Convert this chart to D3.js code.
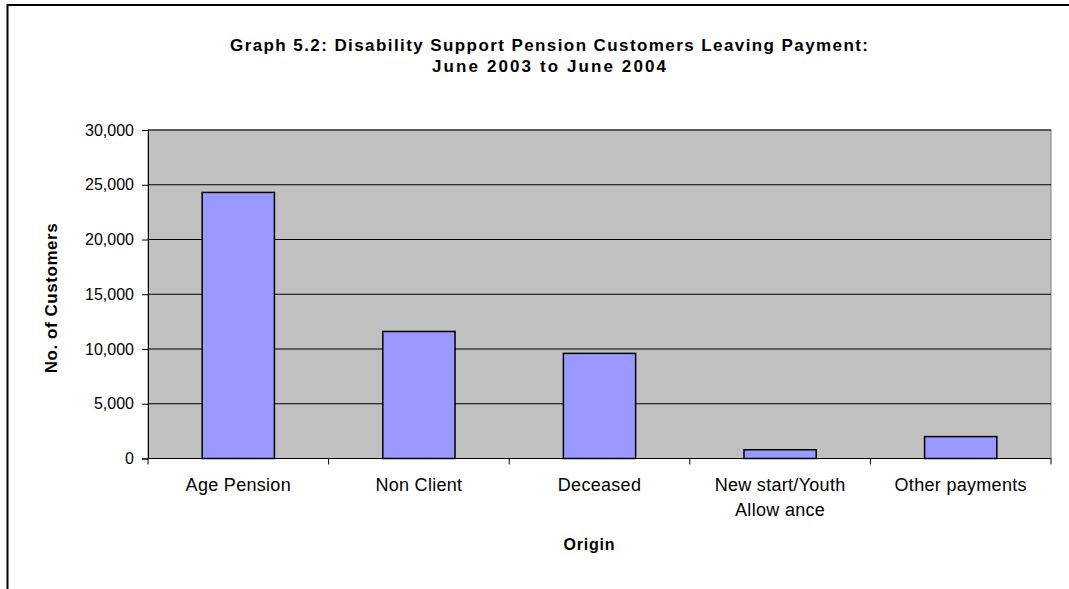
<!DOCTYPE html>
<html><head><meta charset="utf-8">
<script src="https://cdn.jsdelivr.net/npm/d3@7"></script>
<style>body{margin:0;background:#fff;} svg{display:block;font-family:"Liberation Sans",Arial,sans-serif;}</style>
</head><body>
<svg id="c" width="1069" height="589"></svg>
<script>
const categories = ["Age Pension", "Non Client", "Deceased", "New start/Youth Allowance", "Other payments"];
const categoryLines = [["Age Pension"], ["Non Client"], ["Deceased"], ["New start/Youth", "Allow ance"], ["Other payments"]];
const values = [24300, 11600, 9600, 800, 2000];
const yTicks = [0, 5000, 10000, 15000, 20000, 25000, 30000];
const titleLines = ["Graph 5.2: Disability Support Pension Customers Leaving Payment:", "June 2003 to June 2004"];
const yTitle = "No. of Customers";
const xTitle = "Origin";

const svg = d3.select("#c");
const plot = {l: 148, r: 1051, t: 130, b: 458.5};

// outer border
svg.append("rect").attr("x", 7.5).attr("y", 5).attr("width", 1100).attr("height", 700)
  .attr("fill", "#fff").attr("stroke", "#000").attr("stroke-width", 2);

const x = d3.scaleBand().domain(categories).range([plot.l, plot.r]).paddingInner(0.6).paddingOuter(0.3);
const xOuter = d3.scaleBand().domain(categories).range([plot.l, plot.r]);
const y = d3.scaleLinear().domain([0, 30000]).range([plot.b, plot.t]);

// plot background
svg.append("rect").attr("x", plot.l).attr("y", plot.t).attr("width", plot.r - plot.l).attr("height", plot.b - plot.t)
  .attr("fill", "#c0c0c0").attr("stroke", "#808080").attr("stroke-width", 1);

// gridlines
svg.append("g").selectAll("line").data(yTicks.filter(d => d > 0)).join("line")
  .attr("x1", plot.l).attr("x2", plot.r).attr("y1", d => y(d)).attr("y2", d => y(d))
  .attr("stroke", "#000").attr("stroke-width", 1);

// bars
svg.append("g").selectAll("rect").data(values).join("rect")
  .attr("x", (d, i) => x(categories[i]))
  .attr("width", x.bandwidth())
  .attr("y", d => y(d))
  .attr("height", d => y(0) - y(d))
  .attr("fill", "#9999ff").attr("stroke", "#000").attr("stroke-width", 1.5);

// y axis
const yAxis = d3.axisLeft(y).tickValues(yTicks).tickSize(6).tickPadding(8).tickFormat(d3.format(","));
const gy = svg.append("g").attr("transform", `translate(${plot.l},0)`).call(yAxis);
gy.select(".domain").attr("stroke", "#000");
gy.selectAll(".tick line").attr("stroke", "#000");
gy.selectAll("text").attr("font-size", 16).attr("fill", "#000").attr("font-family", "Liberation Sans, Arial, sans-serif");

// x axis
const gx = svg.append("g").attr("transform", `translate(0,${plot.b})`);
gx.append("line").attr("x1", plot.l).attr("x2", plot.r).attr("stroke", "#000");
gx.selectAll("line.t").data(categories.concat(["_end"])).join("line").attr("class", "t")
  .attr("x1", (d, i) => i < categories.length ? xOuter(d) : plot.r)
  .attr("x2", (d, i) => i < categories.length ? xOuter(d) : plot.r)
  .attr("y1", 0).attr("y2", 6).attr("stroke", "#000");
const lab = gx.selectAll("text").data(categoryLines).join("text")
  .attr("x", (d, i) => xOuter(categories[i]) + xOuter.bandwidth() / 2)
  .attr("y", 32).attr("text-anchor", "middle").attr("font-size", 18).attr("letter-spacing", 0.3).attr("fill", "#000");
lab.selectAll("tspan").data(d => d).join("tspan")
  .attr("x", function () { return d3.select(this.parentNode).attr("x"); })
  .attr("dy", (d, i) => i === 0 ? 0 : 25).text(d => d);

// titles
const titleWidths = [638, 234];
svg.append("g").selectAll("text").data(titleLines).join("text")
  .attr("x", 549).attr("y", (d, i) => 51 + i * 21).attr("text-anchor", "middle")
  .attr("font-size", 17).attr("font-weight", "bold")
  .attr("textLength", (d, i) => titleWidths[i]).attr("lengthAdjust", "spacing").text(d => d);

svg.append("text").attr("transform", `translate(57,${(plot.t + plot.b) / 2 + 4}) rotate(-90)`)
  .attr("text-anchor", "middle").attr("font-size", 17).attr("font-weight", "bold")
  .attr("textLength", 150).attr("lengthAdjust", "spacing").text(yTitle);

svg.append("text").attr("x", (plot.l + plot.r) / 2 - 10).attr("y", 549.5).attr("text-anchor", "middle")
  .attr("font-size", 16).attr("font-weight", "bold").attr("letter-spacing", 0.8).text(xTitle);
</script>
</body></html>
